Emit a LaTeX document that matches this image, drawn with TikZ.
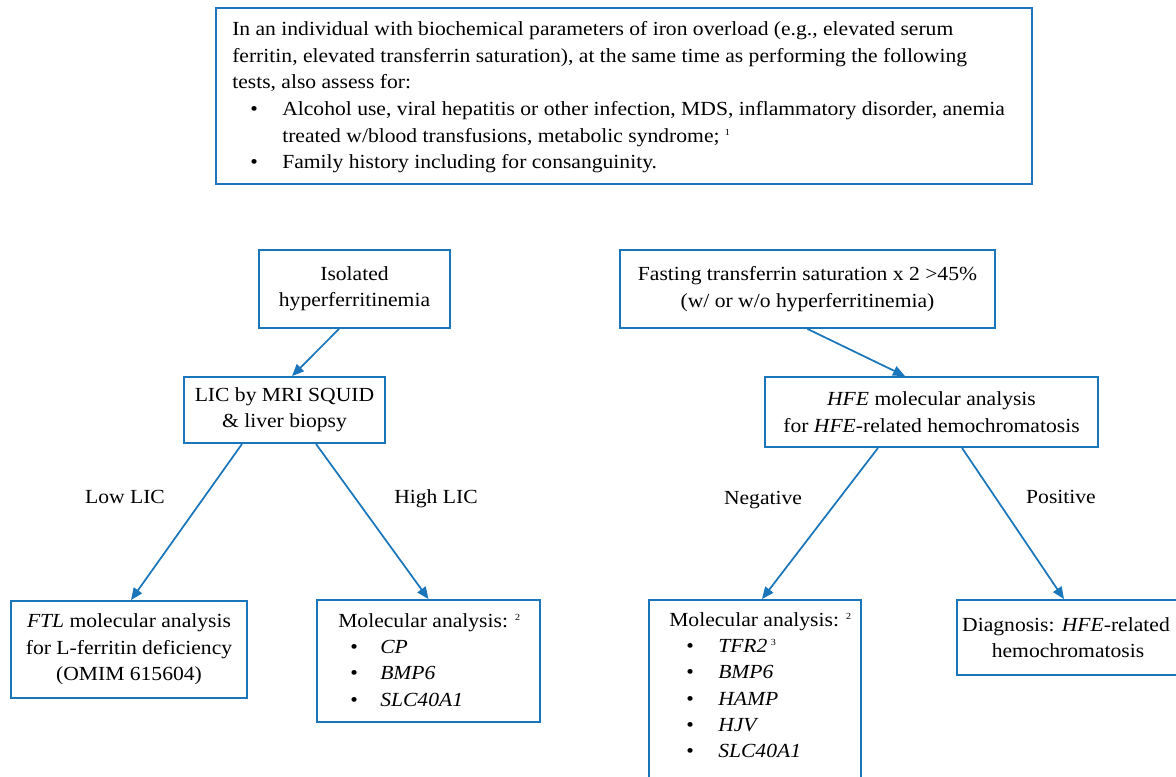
\documentclass[tikz,border=0pt]{standalone}
\usepackage{fontspec}
\setmainfont{Liberation Serif}[FakeStretch=1.08]
\usetikzlibrary{arrows.meta,calc}
\definecolor{bl}{RGB}{26,117,187}
\begin{document}
\begin{tikzpicture}[x=0.75pt,y=-0.75pt,
  box/.style={draw=bl,line width=1.4pt,inner sep=0pt,font=\fontsize{15}{19.75}\selectfont},
  lbl/.style={inner sep=0pt,font=\fontsize{15}{19.75}\selectfont},
  arr/.style={draw=bl,line width=1.3pt,-{Triangle[length=9pt,width=7.5pt]}}]
\useasboundingbox (0,0) rectangle (1176,776);
\newcommand{\bul}[1]{\makebox[#1][l]{\textbullet}}
% top box
\node[box,minimum width=816*0.75pt,minimum height=176*0.75pt] (top) at (624,96) {};
\node[lbl,anchor=north west,align=left,font=\fontsize{15}{20}\selectfont] (toptext) at (232,21) {In an individual with biochemical parameters of iron overload (e.g., elevated serum\\
ferritin, elevated transferrin saturation), at the same time as performing the following\\
tests, also assess for:\\
\hspace{13.5pt}\bul{24pt}Alcohol use, viral hepatitis or other infection, MDS, inflammatory disorder, anemia\\
\hspace{37.5pt}treated w/blood transfusions, metabolic syndrome; \textsuperscript{\scriptsize 1}\\
\hspace{13.5pt}\bul{24pt}Family history including for consanguinity.};
% second row
\node[box,minimum width=191*0.75pt,minimum height=78*0.75pt,align=center] (iso) at (354.5,289) {Isolated\\hyperferritinemia};
\node[box,minimum width=375*0.75pt,minimum height=78*0.75pt,align=center] (fast) at (807.5,289) {Fasting transferrin saturation x 2 >45\%\\(w/ or w/o hyperferritinemia)};
% third row
\node[box,minimum width=201*0.75pt,minimum height=66*0.75pt,align=center] (lic) at (284.5,410) {LIC by MRI SQUID\\\& liver biopsy};
\node[box,minimum width=333*0.75pt,minimum height=70*0.75pt,align=center] (hfe) at (931.5,412) {\textit{HFE} molecular analysis\\for \textit{HFE}-related hemochromatosis};
% bottom row
\node[box,minimum width=236*0.75pt,minimum height=97*0.75pt,align=center] (ftl) at (129,649.5) {\textit{FTL} molecular analysis\\for L-ferritin deficiency\\(OMIM 615604)};
\node[box,minimum width=223*0.75pt,minimum height=122*0.75pt] (ml) at (428.5,661) {};
\node[lbl,anchor=north west,align=left] (mltext) at (338,613) {Molecular analysis: \textsuperscript{\scriptsize 2}\\
\hspace{9pt}\bul{22.5pt}\textit{CP}\\
\hspace{9pt}\bul{22.5pt}\textit{BMP6}\\
\hspace{9pt}\bul{22.5pt}\textit{SLC40A1}};
\node[box,minimum width=212*0.75pt,minimum height=200*0.75pt] (mr) at (755,700) {};
\node[lbl,anchor=north west,align=left] (mrtext) at (669,612) {Molecular analysis: \textsuperscript{\scriptsize 2}\\
\hspace{12.75pt}\bul{24pt}\textit{TFR2}\,\textsuperscript{\scriptsize 3}\\
\hspace{12.75pt}\bul{24pt}\textit{BMP6}\\
\hspace{12.75pt}\bul{24pt}\textit{HAMP}\\
\hspace{12.75pt}\bul{24pt}\textit{HJV}\\
\hspace{12.75pt}\bul{24pt}\textit{SLC40A1}};
\node[box,minimum width=222*0.75pt,minimum height=75*0.75pt,align=center] (diag) at (1068,637.5) {\hspace*{-3pt}Diagnosis: \textit{HFE}-related\\hemochromatosis};
% labels
\node[lbl,anchor=base] (low) at (125,503) {Low LIC};
\node[lbl,anchor=base] (high) at (436,503) {High LIC};
\node[lbl,anchor=base] (neg) at (763,504) {Negative};
\node[lbl,anchor=base] (pos) at (1061,503) {Positive};
% arrows
\draw[arr] ([xshift=-15.5*0.75pt]iso.south) -- ([xshift=7.5*0.75pt]lic.north);
\draw[arr] (fast.south) -- ([xshift=-26.5*0.75pt]hfe.north);
\draw[arr] ([xshift=-42.5*0.75pt]lic.south) -- ([xshift=2*0.75pt]ftl.north);
\draw[arr] ([xshift=31.5*0.75pt]lic.south) -- (ml.north);
\draw[arr] ([xshift=-53.5*0.75pt]hfe.south) -- ([xshift=7*0.75pt]mr.north);
\draw[arr] ([xshift=30.5*0.75pt]hfe.south) -- ([xshift=-4*0.75pt]diag.north);
\end{tikzpicture}
\end{document}
